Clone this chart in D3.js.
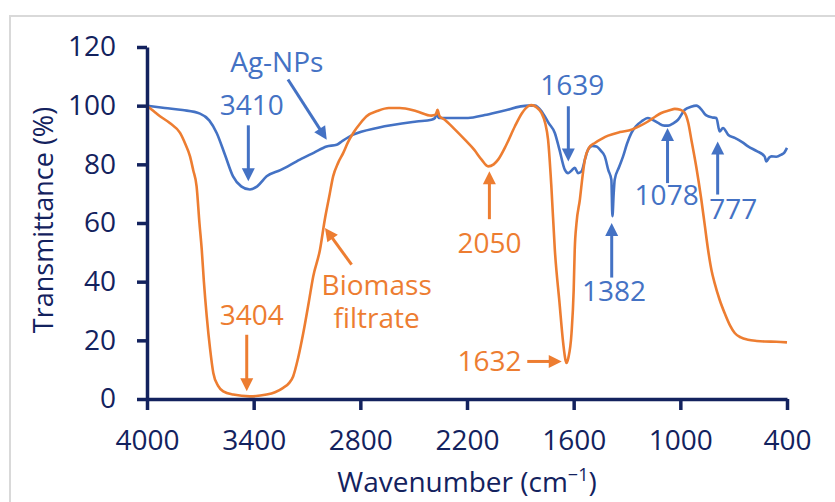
<!DOCTYPE html>
<html>
<head>
<meta charset="utf-8">
<script src="https://cdn.jsdelivr.net/npm/d3@7"></script>
<style>
  body { margin: 0; background: #fff; }
  svg { display: block; font-family: "Open Sans", sans-serif; }
</style>
</head>
<body>
<svg id="chart" width="835" height="502"></svg>
<script>
// FTIR spectra (wavenumber cm-1, transmittance %)
const agWavenumber = [4000, 3900, 3800, 3702, 3650, 3608, 3560, 3516, 3470, 3421, 3380, 3327, 3250, 3140, 3060, 2990, 2933, 2900, 2840, 2700, 2484, 2400, 2380, 2371, 2360, 2300, 2194, 2100, 2000, 1856, 1818, 1780, 1740, 1706, 1680, 1650, 1631, 1610, 1594, 1575, 1556, 1535, 1519, 1495, 1472, 1445, 1425, 1405, 1388, 1382, 1375, 1369, 1345, 1322, 1300, 1275, 1250, 1219, 1182, 1150, 1125, 1090, 1069, 1040, 1013, 975, 940, 910, 880, 860, 844, 820, 797, 779, 760, 730, 694, 650, 619, 570, 526, 516, 500, 488, 460, 432, 415, 400];
const agTransmittance = [100, 99.2, 98.5, 97.3, 95, 90.7, 83, 75.9, 72.5, 71.4, 72.5, 75.9, 78, 81.6, 84, 86.1, 86.7, 88, 90.1, 92.5, 94.6, 95.2, 95.8, 97.5, 95.8, 95.8, 95.8, 96.8, 98.2, 100, 100, 98, 94, 90.7, 85, 78.2, 77, 78, 78.8, 77, 77.6, 82, 85, 86.3, 86.1, 84.5, 82.7, 78, 74.8, 62.3, 70, 74.8, 79, 82.7, 87, 90.7, 93, 94.6, 95.8, 95, 94.1, 93.2, 93.2, 94, 95.2, 98.6, 99.6, 100, 98.6, 97, 96.4, 96, 95.8, 91.2, 92.4, 90, 89, 87.5, 86.1, 84.5, 82.7, 81, 82.3, 82.7, 82.6, 83.3, 84, 85.6];

const bioWavenumber = [4000, 3960, 3927, 3870, 3814, 3785, 3758, 3740, 3721, 3705, 3692, 3680, 3664, 3645, 3627, 3600, 3571, 3515, 3421, 3327, 3280, 3234, 3200, 3178, 3150, 3121, 3090, 3065, 3027, 3000, 2975, 2953, 2925, 2896, 2870, 2840, 2800, 2765, 2700, 2640, 2578, 2484, 2400, 2375, 2366, 2355, 2325, 2270, 2212, 2160, 2118, 2081, 2050, 2025, 1980, 1931, 1890, 1856, 1837, 1810, 1781, 1760, 1744, 1725, 1706, 1680, 1659, 1645, 1640, 1630, 1612, 1600, 1594, 1584, 1565, 1550, 1537, 1515, 1481, 1440, 1406, 1340, 1275, 1230, 1182, 1140, 1107, 1060, 1031, 1000, 975, 955, 938, 910, 882, 862, 844, 825, 807, 780, 751, 720, 694, 660, 619, 570, 526, 460, 400];
const bioTransmittance = [100, 98, 96.4, 94, 90.7, 87, 82.7, 78, 72.5, 60, 50.9, 40, 28.2, 17, 8.9, 4.5, 2.6, 1.5, 0.9, 1.5, 2.3, 3.8, 5.5, 7.7, 14, 22.5, 33, 41.8, 50.9, 61.1, 69, 75.9, 80.5, 83.9, 87.5, 90.7, 94, 96.4, 98.3, 99.2, 99.2, 98.1, 96.6, 97, 98.6, 96.5, 95.2, 92, 88.4, 85, 81.6, 79.3, 80, 81.6, 86.5, 92.9, 97.5, 99.8, 100.2, 99.5, 97.5, 94, 88.4, 72, 50.9, 33, 19.1, 13, 12.3, 14, 22.5, 37, 50.9, 60, 68, 76, 81.6, 85.5, 87.3, 88.8, 89.8, 91, 91.8, 93, 94.6, 96.3, 97.5, 98.4, 98.9, 98.6, 97.5, 94, 88.4, 79, 68, 59, 50.9, 44, 39.5, 34, 29.3, 25, 22.5, 21, 20.2, 19.8, 19.6, 19.5, 19.3];

const xTicks = [4000, 3400, 2800, 2200, 1600, 1000, 400];
const yTicks = [0, 20, 40, 60, 80, 100, 120];

const BLUE = '#4472C4';
const ORANGE = '#ED7D31';
const NAVY = '#13225e';

// peak labels, placed in data units: text at (tx, ty), arrow from (x1, y1) to tip (x2, y2)
const annotations = [
    { text: ['Ag-NPs'], color: BLUE, tx: 3270, ty: 111.5, x1: 3207, y1: 108.9, x2: 2989, y2: 88.4 },
    { text: ['3410'], color: BLUE, tx: 3411, ty: 96.9, x1: 3430, y1: 93.3, x2: 3430, y2: 74.2 },
    { text: ['1639'], color: BLUE, tx: 1608, ty: 103.7, x1: 1630, y1: 99.8, x2: 1630, y2: 81 },
    { text: ['1382'], color: BLUE, tx: 1373, ty: 33.3, x1: 1386, y1: 41.4, x2: 1386, y2: 60 },
    { text: ['1078'], color: BLUE, tx: 1077, ty: 66.2, x1: 1072, y1: 73.6, x2: 1072, y2: 92.4 },
    { text: ['777'], color: BLUE, tx: 702, ty: 61.2, x1: 790, y1: 69.7, x2: 790, y2: 87.8 },
    { text: ['3404'], color: ORANGE, tx: 3411, ty: 25.3, x1: 3439, y1: 21.9, x2: 3439, y2: 2.6 },
    { text: ['Biomass', 'filtrate'], color: ORANGE, tx: 2708, ty: 35.6, x1: 2849, y1: 45.8, x2: 2999, y2: 58.3 },
    { text: ['2050'], color: ORANGE, tx: 2074, ty: 49.9, x1: 2074, y1: 61.3, x2: 2074, y2: 77.6 },
    { text: ['1632'], color: ORANGE, tx: 1893, ty: 9.4, x1: 1861, y1: 12.8, x2: 1667, y2: 12.8, anchor: 'end' }
];

const svg = d3.select('#chart');

// light frame round the chart
svg.append('rect')
    .attr('x', 10).attr('y', 16)
    .attr('width', 900).attr('height', 600)
    .attr('fill', 'none')
    .attr('stroke', '#d9d9d9')
    .attr('stroke-width', 2);

const x = d3.scaleLinear().domain([4000, 400]).range([147, 787]);
const y = d3.scaleLinear().domain([0, 120]).range([399, 47]);

// series
const line = d3.line()
    .x(d => x(d[0]))
    .y(d => y(d[1]))
    .curve(d3.curveMonotoneX);

const series = [
    { color: BLUE, points: d3.zip(agWavenumber, agTransmittance) },
    { color: ORANGE, points: d3.zip(bioWavenumber, bioTransmittance) }
];

svg.append('g').selectAll('path')
    .data(series)
    .join('path')
    .attr('d', d => line(d.points))
    .attr('fill', 'none')
    .attr('stroke', d => d.color)
    .attr('stroke-width', 2.6)
    .attr('stroke-linejoin', 'round');

// axes
const xAxis = svg.append('g')
    .attr('transform', 'translate(0,399)')
    .call(d3.axisBottom(x).tickValues(xTicks).tickFormat(d3.format('d'))
        .tickSize(11).tickSizeOuter(0).tickPadding(20));

const yAxis = svg.append('g')
    .attr('transform', 'translate(147,0)')
    .call(d3.axisLeft(y).tickValues(yTicks).tickFormat(d3.format('d'))
        .tickSize(10).tickSizeOuter(0).tickPadding(21));

[xAxis, yAxis].forEach(g => {
    g.select('.domain').attr('stroke', NAVY).attr('stroke-width', 3.5);
    g.selectAll('.tick line').attr('stroke', NAVY).attr('stroke-width', 3.5);
    g.selectAll('.tick text')
        .attr('fill', NAVY)
        .style('font-family', '"Open Sans", sans-serif')
        .style('font-size', '28px');
});

// axis titles
const xTitle = svg.append('text')
    .attr('x', 467).attr('y', 492)
    .attr('text-anchor', 'middle')
    .attr('fill', NAVY)
    .style('font-size', '28px')
    .text('Wavenumber (cm');
xTitle.append('tspan').attr('dy', -11).style('font-size', '18px').text('\u22121');
xTitle.append('tspan').attr('dy', 11).text(')');

svg.append('text')
    .attr('transform', 'translate(53,220) rotate(-90)')
    .attr('text-anchor', 'middle')
    .attr('fill', NAVY)
    .style('font-size', '27px')
    .text('Transmittance (%)');

// annotations
const notes = svg.append('g');
const headLen = 13, headHalf = 6.5;

annotations.forEach(a => {
    const t = notes.append('text')
        .attr('x', x(a.tx)).attr('y', y(a.ty))
        .attr('text-anchor', a.anchor || 'middle')
        .attr('fill', a.color)
        .style('font-size', '28px');
    a.text.forEach((s, i) => {
        t.append('tspan')
            .attr('x', x(a.tx))
            .attr('dy', i === 0 ? 0 : 33)
            .text(s);
    });

    const px1 = x(a.x1), py1 = y(a.y1), px2 = x(a.x2), py2 = y(a.y2);
    const len = Math.hypot(px2 - px1, py2 - py1);
    const ux = (px2 - px1) / len, uy = (py2 - py1) / len;
    const bx = px2 - ux * headLen, by = py2 - uy * headLen;

    notes.append('line')
        .attr('x1', px1).attr('y1', py1)
        .attr('x2', bx + ux * 1).attr('y2', by + uy * 1)
        .attr('stroke', a.color)
        .attr('stroke-width', 3);

    notes.append('path')
        .attr('d', `M${px2},${py2}L${bx - uy * headHalf},${by + ux * headHalf}L${bx + uy * headHalf},${by - ux * headHalf}Z`)
        .attr('fill', a.color);
});
</script>
</body>
</html>
